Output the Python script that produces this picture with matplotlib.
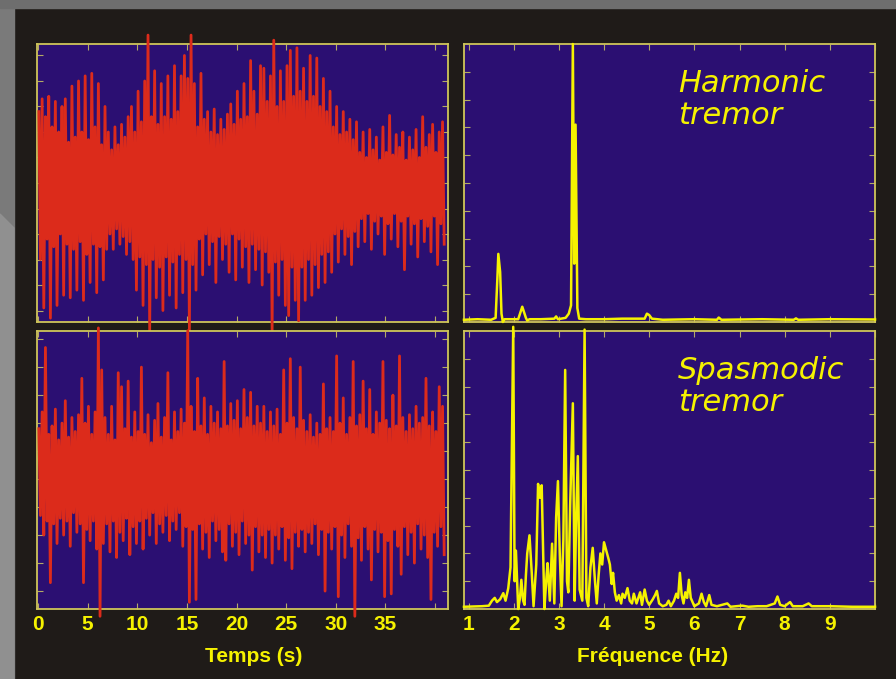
import numpy as np
import matplotlib
matplotlib.use("Agg")
from matplotlib import pyplot as plt
from matplotlib.patches import Rectangle, Polygon

# --- data ---
# time signals: per-cycle maxima / minima, 3 cycles per second
tl_hi = [2.8, 3.3, 2.6, 3.4, 2.2, 3.2, 2.0, 3.0,
         3.3, 1.6, 3.8, 1.8, 4.0, 2.0, 4.2, 1.7, 4.3, 2.2, 3.9, 1.5, 3.0,
         2.0, 1.3, 2.2, 1.5, 2.3, 1.8, 2.6,
         3.0, 2.0, 3.6, 2.4, 4.0, 5.8, 2.6, 4.4, 2.3, 3.9, 2.6, 4.2, 2.5, 4.6, 2.8, 4.2, 5.0, 4.1, 5.8,
         3.9, 2.2, 4.3, 2.5, 2.8, 2.0, 2.9, 1.9, 2.5, 2.1, 2.7,
         3.1, 2.3, 3.6, 2.5, 3.9, 2.6, 4.8, 3.6, 2.7, 4.6, 4.5,
         3.2, 4.2, 5.6, 3.0, 4.4, 3.2, 4.6, 5.2, 3.4, 5.3, 3.6, 4.5, 3.2, 5.0, 3.4, 4.9, 3.0, 4.1, 2.8, 3.6,
         2.2, 3.0, 1.9, 2.8, 2.0, 2.5, 1.7, 2.4,
         1.2, 2.0, 1.0, 2.1, 1.3, 1.8, 0.9, 2.2, 1.2, 2.65, 1.1, 1.9, 1.4, 2.0, 0.9, 1.8, 1.3, 2.1,
         1.0, 2.6, 1.4, 1.9, 2.3, 1.2, 2.0, 2.4]
tl_lo = [-3.0, -4.9, -2.2, -5.3, -2.5, -4.8, -2.0, -4.4,
         -2.4, -4.5, -2.6, -4.2, -2.3, -4.6, -2.8, -3.9, -2.4, -4.3, -2.5, -3.8, -2.6,
         -2.0, -2.6, -1.8, -2.4, -2.1, -2.8, -2.3,
         -3.0, -4.2, -2.9, -4.8, -3.2, -5.8, -3.0, -4.5, -3.3, -5.0, -2.9, -4.4, -3.1, -4.9, -2.8, -4.3,
         -3.0, -5.8, -3.2, -4.2,
         -2.2, -3.6, -2.0, -3.2, -2.3, -3.9, -2.1, -3.0, -2.4, -3.5, -2.0, -3.8, -2.2, -3.3, -2.5, -3.9,
         -2.4, -3.4, -2.6, -4.0, -2.7,
         -3.5, -5.8, -3.1, -4.4, -3.0, -4.8, -5.2, -3.3, -4.6, -5.4, -3.3, -4.6, -3.0, -4.4, -3.2, -4.1,
         -2.8, -3.9, -2.7, -3.5,
         -2.0, -3.1, -1.8, -2.8, -2.1, -3.2, -1.9, -2.5,
         -1.4, -2.3, -1.2, -2.6, -1.5, -2.0, -1.3, -2.8, -1.6, -2.2, -1.2, -2.5, -1.5, -3.4, -1.3, -2.4,
         -1.6, -2.9, -1.4, -2.3, -1.7, -2.7, -1.3, -3.2, -1.6, -2.4]

bl_hi = [1.8, 2.4, 4.7, 1.6, 1.9,
         2.5, 1.4, 2.0, 2.8, 1.5, 2.2, 1.7, 2.3,
         3.6, 2.0, 2.6, 1.6, 2.4, 5.4, 3.9, 2.2,
         1.6, 2.6, 1.4, 3.8, 3.3, 1.8, 3.5, 1.5, 2.4, 1.7, 4.0,
         1.6, 2.3, 1.3, 2.1, 2.7, 1.5, 2.2, 3.8, 1.4, 2.4, 1.7, 2.5, 2.0,
         5.3, 2.6,
         1.7, 3.6, 1.9, 2.9, 1.6, 2.6, 2.0, 2.4, 1.8, 4.2, 1.9, 2.7, 2.1, 2.8, 1.8, 3.2, 2.2, 3.1, 1.9,
         2.6, 2.0,
         2.6, 1.7, 2.4, 1.9, 2.5, 1.6,
         3.9, 2.0, 4.3, 2.2, 1.8, 4.0, 2.1,
         1.7, 2.3, 1.5, 2.0, 1.6, 3.4, 1.8, 2.2,
         1.7, 4.4, 2.0, 2.9, 1.6, 2.2, 4.2, 1.9, 2.3, 3.5, 1.8, 3.2, 1.6, 2.4, 2.0, 4.2, 2.1, 1.8,
         3.0, 1.9, 4.4, 2.2, 1.7, 2.3, 1.8, 2.6, 2.0, 2.2, 3.6, 1.9, 2.4, 1.7, 3.3, 2.6]
bl_lo = [-1.3, -2.0, -1.5, -3.7, -1.6,
         -2.3, -1.4, -2.0, -1.5, -2.4, -1.2, -1.9, -1.6,
         -3.7, -1.8, -2.2, -1.5, -2.5, -4.9, -2.3,
         -1.6, -2.6, -1.5, -2.8, -1.9, -2.2, -1.4, -2.7, -1.7, -2.3, -1.5, -2.5,
         -1.4, -2.0, -1.2, -2.3, -1.6, -1.9, -1.3, -2.2, -1.5, -1.8, -1.2, -2.4, -1.7,
         -4.4, -1.8, -4.3,
         -1.6, -2.5, -1.9, -2.8, -1.5, -2.2, -1.8, -2.6, -2.9, -1.6, -2.4, -1.9, -2.7, -1.5, -2.3,
         -2.0, -3.25, -1.7, -2.6, -2.0,
         -2.8, -1.8, -3.0, -2.0, -2.5, -1.7, -2.9, -2.1, -3.2, -1.9, -2.4, -1.8, -2.6, -1.9,
         -2.3, -1.6, -2.7, -1.8, -4.0, -1.9, -2.5, -1.7, -4.2, -2.0, -2.8, -1.6, -2.4, -4.9, -2.1,
         -2.9, -1.7, -2.5, -3.6, -1.8, -2.6, -1.9, -4.2, -2.2, -4.1, -1.8, -2.4, -3.4, -1.7, -2.7,
         -1.9, -3.0, -1.6, -2.5, -2.0, -2.8, -4.3, -1.9, -2.4, -1.7, -2.7]

# spectra (frequency in Hz, amplitude)
hr_f = [0.9, 1.2, 1.5, 1.6, 1.64, 1.66, 1.7, 1.73, 1.76, 1.8, 2.1, 2.16, 2.19, 2.23, 2.27,
        2.3, 2.35, 2.6, 2.9, 2.94, 2.98, 3.15, 3.22, 3.27, 3.31, 3.34, 3.37, 3.41, 3.45,
        3.6, 4.0, 4.4, 4.9, 4.95, 5.0, 5.06, 5.3, 6.0, 6.5, 6.54, 6.6, 7.5, 8.2, 8.25,
        8.3, 9.0, 10.0]
hr_a = [0.08, 0.1, 0.08, 0.15, 1.6, 2.45, 1.8, 0.3, 0.0, 0.1, 0.1, 0.4, 0.55, 0.35, 0.15,
        0.05, 0.1, 0.1, 0.12, 0.2, 0.1, 0.15, 0.3, 0.6, 10.0, 2.1, 7.1, 0.5, 0.12,
        0.1, 0.1, 0.12, 0.12, 0.3, 0.25, 0.12, 0.08, 0.1, 0.08, 0.16, 0.08, 0.1, 0.08, 0.13,
        0.08, 0.1, 0.09]

sp_f = [0.9, 1.3, 1.45, 1.52, 1.58, 1.63, 1.7, 1.77, 1.82, 1.88, 1.93, 1.99, 2.02, 2.05,
        2.1, 2.14, 2.17, 2.21, 2.24, 2.27, 2.3, 2.35, 2.4, 2.44, 2.5, 2.54, 2.58, 2.62,
        2.68, 2.72, 2.75, 2.8, 2.85, 2.9, 2.94, 2.98, 3.02, 3.06, 3.1, 3.14, 3.18, 3.21,
        3.25, 3.31, 3.35, 3.38, 3.42, 3.46, 3.52, 3.57, 3.61, 3.65, 3.7, 3.75, 3.8, 3.84,
        3.88, 3.92, 3.96, 4.0, 4.05, 4.1, 4.13, 4.17, 4.2, 4.24, 4.28, 4.33, 4.38, 4.41,
        4.46, 4.52, 4.57, 4.62, 4.66, 4.72, 4.8, 4.84, 4.9, 4.95, 5.0, 5.08, 5.13, 5.17,
        5.22, 5.3, 5.38, 5.43, 5.48, 5.55, 5.6, 5.64, 5.68, 5.72, 5.76, 5.8, 5.84, 5.88,
        5.92, 6.0, 6.1, 6.16, 6.21, 6.26, 6.33, 6.38, 6.5, 6.73, 6.8, 7.06, 7.2, 7.4,
        7.6, 7.78, 7.84, 7.9, 8.0, 8.12, 8.18, 8.4, 8.53, 8.6, 9.0, 9.5, 10.0]
sp_a = [0.08, 0.1, 0.12, 0.3, 0.4, 0.25, 0.35, 0.57, 0.3, 0.75, 1.5, 10.15, 1.0, 2.1,
        0.0, 0.4, 1.05, 0.3, 0.15, 1.2, 2.0, 2.65, 1.3, 0.1, 1.6, 4.5, 4.0, 4.45,
        0.0, 1.0, 1.65, 0.3, 2.35, 0.2, 3.3, 4.6, 2.0, 0.1, 2.5, 8.6, 1.0, 0.6,
        3.7, 7.4, 0.3, 3.0, 5.5, 0.7, 0.3, 10.05, 0.4, 0.1, 1.5, 2.2, 1.0, 0.2,
        1.2, 2.0, 1.6, 2.4, 2.1, 1.8, 1.6, 0.9, 1.3, 0.6, 0.3, 0.5, 0.2, 0.55,
        0.4, 0.75, 0.3, 0.2, 0.55, 0.2, 0.6, 0.15, 0.7, 0.3, 0.15, 0.35, 0.5, 0.65,
        0.2, 0.1, 0.15, 0.3, 0.1, 0.3, 0.55, 0.4, 1.3, 0.5, 0.2, 0.6, 0.4, 1.05,
        0.4, 0.1, 0.2, 0.55, 0.25, 0.1, 0.5, 0.15, 0.1, 0.2, 0.08, 0.12, 0.08, 0.1,
        0.1, 0.2, 0.45, 0.15, 0.1, 0.25, 0.1, 0.1, 0.2, 0.1, 0.1, 0.08, 0.08]

time_ticks = [0, 5, 10, 15, 20, 25, 30, 35]
freq_ticks = [1, 2, 3, 4, 5, 6, 7, 8, 9]
texts = ["Harmonic\ntremor", "Spasmodic\ntremor"]

BG = "#1f1b18"
PANEL = "#2b0f72"
RED = "#dc2b1b"
YEL = "#f5f200"
SPINE = "#cfc55a"


def zigzag(hi, lo, rate=3.0):
    # alternate maxima / minima, one pair per cycle
    hi = np.asarray(hi)
    lo = np.asarray(lo)
    t0 = np.arange(len(hi)) / rate
    t = np.column_stack([t0 + 0.25 / rate, t0 + 0.75 / rate]).ravel()
    y = np.column_stack([hi, lo]).ravel()
    return t, y


def style(ax):
    ax.set_facecolor(PANEL)
    for s in ax.spines.values():
        s.set_color(SPINE)
        s.set_linewidth(1.3)
    ax.tick_params(direction="in", length=4, width=0.8, color="#b3aa66",
                   top=True, right=True, labelleft=False,
                   labelsize=15, labelcolor=YEL, pad=4)


fig = plt.figure(figsize=(8.96, 6.79), dpi=100, facecolor=BG)

# slide background strips
fig.add_artist(Rectangle((0, 0), 14 / 896, 1, transform=fig.transFigure,
                         color="#7a7a7a", zorder=-5))
fig.add_artist(Polygon([(0, 0), (14 / 896, 0), (14 / 896, 1 - 228 / 679), (0, 1 - 214 / 679)],
                       closed=True, transform=fig.transFigure, color="#909090", zorder=-4))
fig.add_artist(Rectangle((0, 1 - 8 / 679), 1, 8 / 679, transform=fig.transFigure,
                         color="#6e6e6e", zorder=-5))

W = 411 / 896
H = 278 / 679
ax_tl = fig.add_axes([37 / 896, 1 - 322 / 679, W, H])
ax_tr = fig.add_axes([464 / 896, 1 - 322 / 679, W, H])
ax_bl = fig.add_axes([37 / 896, 1 - 609 / 679, W, H])
ax_br = fig.add_axes([464 / 896, 1 - 609 / 679, W, H])

# time signals
for ax, hi, lo, ylim, yt in [(ax_tl, tl_hi, tl_lo, (-5.45, 5.45), range(-5, 6)),
                             (ax_bl, bl_hi, bl_lo, (-4.64, 5.29), range(-4, 6))]:
    style(ax)
    t, y = zigzag(hi, lo)
    ax.plot(t, y, color=RED, lw=2.0, clip_on=False, zorder=3)
    ax.set_xlim(-0.1, 41.3)
    ax.set_ylim(*ylim)
    ax.set_yticks(list(yt))
    ax.set_xticks(time_ticks + [40])

ax_bl.set_xticklabels([str(v) for v in time_ticks] + [""], fontweight="bold",
                      family="Liberation Sans")
ax_tl.tick_params(labelbottom=False)

# spectra
for ax, f, a in [(ax_tr, hr_f, hr_a), (ax_br, sp_f, sp_a)]:
    style(ax)
    ax.plot(f, a, color=YEL, lw=1.8, clip_on=False, zorder=3)
    ax.set_xlim(0.9, 10.0)
    ax.set_ylim(0, 10)
    ax.set_yticks(range(1, 10))
    ax.set_xticks(freq_ticks + [10])

ax_br.set_xticklabels([str(v) for v in freq_ticks] + [""], fontweight="bold",
                      family="Liberation Sans")
ax_tr.tick_params(labelbottom=False)

for ax, txt in [(ax_tr, texts[0]), (ax_br, texts[1])]:
    ax.text(0.52, 0.91, txt, transform=ax.transAxes, color=YEL, fontsize=22,
            style="italic", family="DejaVu Sans", va="top", ha="left",
            linespacing=1.12, zorder=4)

fig.text(254 / 896, 1 - 657 / 679, "Temps (s)", color=YEL, fontsize=15,
         fontweight="bold", family="Liberation Sans", ha="center", va="center")
fig.text(653 / 896, 1 - 657 / 679, "Fréquence (Hz)", color=YEL, fontsize=15,
         fontweight="bold", family="Liberation Sans", ha="center", va="center")

fig.savefig("out.png", dpi=100, facecolor=BG)
